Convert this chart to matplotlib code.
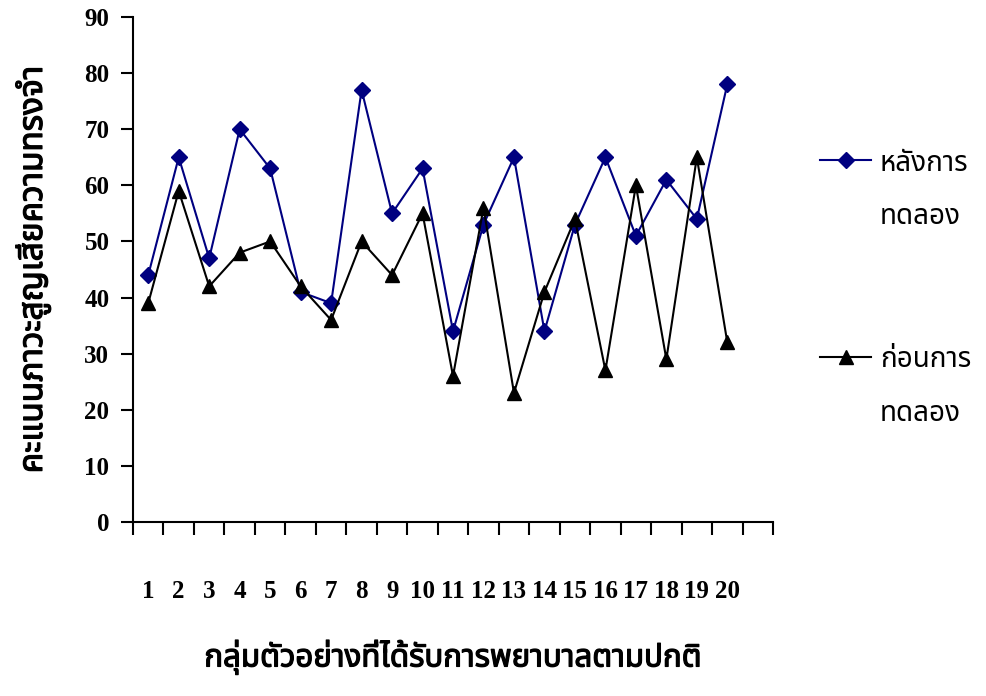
import matplotlib
matplotlib.use("Agg")
import matplotlib.pyplot as plt
import matplotlib.font_manager as fm
import matplotlib.patheffects as pe
from matplotlib.ft2font import FT2Font

# ---- data ----
categories = [str(i) for i in range(1, 21)]
after_values = [44, 65, 47, 70, 63, 41, 39, 77, 55, 63, 34, 53, 65, 34, 53, 65, 51, 61, 54, 78]
before_values = [39, 59, 42, 48, 50, 42, 36, 50, 44, 55, 26, 56, 23, 41, 54, 27, 60, 29, 65, 32]
after_label = "หลังการ\nทดลอง"
before_label = "ก่อนการ\nทดลอง"
y_label = "คะแนนภาวะสูญเสียความทรงจำ"
x_label = "กลุ่มตัวอย่างที่ได้รับการพยาบาลตามปกติ"
y_ticks = [0, 10, 20, 30, 40, 50, 60, 70, 80, 90]


def find_thai_font():
    prefs = ['Noto Sans Thai', 'Noto Sans Thai UI', 'Noto Sans Thai Looped', 'Loma', 'Garuda',
             'Tlwg Typo', 'Sarabun', 'Kinnari', 'Norasi', 'Umpush', 'Waree', 'Laksaman']
    found = []
    for e in fm.fontManager.ttflist:
        try:
            cm = FT2Font(e.fname).get_charmap()
        except Exception:
            continue
        if all(c in cm for c in (0x0E01, 0x0E25, 0x0E31, 0x0E33)):
            found.append(e.name)
    for p in prefs:
        if p in found:
            return p
    return found[0] if found else 'DejaVu Sans'


thai = find_thai_font()
serif = 'Liberation Serif'
bold_fx = [pe.withStroke(linewidth=0.9, foreground='black')]

fig = plt.figure(figsize=(9.86, 6.96), dpi=100)
ax = fig.add_axes([0.1349, 0.25, 0.6491, 0.7256])

x = list(range(1, len(categories) + 1))
ax.plot(x, after_values, color='#000080', lw=1.5, marker='D', markersize=8,
        markerfacecolor='#000080', markeredgecolor='#000080', label=after_label)
ax.plot(x, before_values, color='black', lw=1.5, marker='^', markersize=10,
        markerfacecolor='black', markeredgecolor='black', label=before_label)

ax.set_xlim(0.5, 21.5)
ax.set_ylim(0, 90)
ax.spines['top'].set_visible(False)
ax.spines['right'].set_visible(False)
ax.spines['left'].set_linewidth(1.5)
ax.spines['bottom'].set_linewidth(1.5)

ax.set_yticks(y_ticks)
ax.set_yticklabels([str(v) for v in y_ticks], fontfamily=serif, fontweight='bold', fontsize=18)
ax.tick_params(axis='y', direction='out', length=9, width=1.5, pad=8)

ax.set_xticks([i + 0.5 for i in range(0, 22)])
ax.set_xticklabels([])
ax.tick_params(axis='x', which='major', direction='out', length=9, width=1.5)
ax.set_xticks(x, minor=True)
ax.set_xticklabels(categories, minor=True, fontfamily=serif, fontweight='bold', fontsize=18)
ax.tick_params(axis='x', which='minor', length=0, pad=42)

yl = ax.set_ylabel(y_label, fontfamily=thai, fontsize=24, labelpad=24)
yl.set_path_effects(bold_fx)
xl = ax.set_xlabel(x_label, fontfamily=thai, fontsize=22.5, labelpad=26)
xl.set_path_effects(bold_fx)

leg = ax.legend(loc='upper left', bbox_to_anchor=(0.8316, 0.7845), bbox_transform=fig.transFigure,
                frameon=False, prop={'family': thai, 'size': 20}, handlelength=1.85,
                handletextpad=0.3, labelspacing=4.15, borderpad=0, borderaxespad=0)
for t in leg.get_texts():
    t.set_linespacing(2.2)
fig.canvas.draw()
for h in leg.legend_handles:
    yd = h.get_ydata()
    h.set_ydata([v + 22.5 for v in yd])

fig.savefig('out.png', dpi=100)
